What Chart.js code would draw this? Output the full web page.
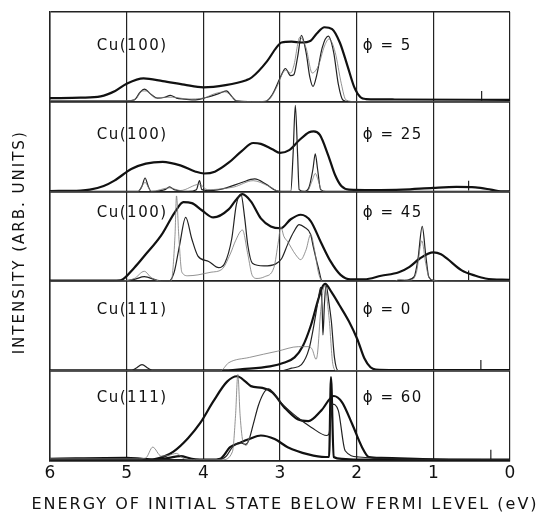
<!DOCTYPE html>
<html>
<head>
<meta charset="utf-8">
<script src="https://cdn.jsdelivr.net/npm/chart.js@4.4.0/dist/chart.umd.min.js"></script>
<style>
  html, body { margin: 0; padding: 0; background: #fff; }
</style>
</head>
<body>
<canvas id="chartspec" width="540" height="514"></canvas>
<script>
// energies in eV below E_F, intensity as fraction of the panel height
const energyTicks = [6, 5, 4, 3, 2, 1, 0];
const surfaces = ['Cu(100)', 'Cu(100)', 'Cu(100)', 'Cu(111)', 'Cu(111)'];
const angles = [5, 25, 45, 0, 60];
const fermiMarks = [0.37, 0.54, 0.54, 0.38, 0.25];
const xTitle = 'ENERGY OF INITIAL STATE BELOW FERMI LEVEL (eV)';
const yTitle = 'INTENSITY (ARB. UNITS)';

// phi = 5
const p1Thick = [[6,0.04],[5.6,0.045],[5.34,0.06],[5.15,0.12],[5.0,0.2],[4.78,0.26],[4.53,0.23],[4.25,0.19],[4.0,0.16],[3.71,0.185],[3.44,0.24],[3.37,0.27],[3.17,0.45],[3.05,0.6],[2.98,0.66],[2.85,0.67],[2.72,0.66],[2.6,0.68],[2.52,0.76],[2.42,0.83],[2.32,0.81],[2.22,0.66],[2.12,0.4],[2.03,0.16],[1.95,0.05],[1.88,0.03],[1.5,0.025],[0,0.02]];
const p1Medium = [[6,0.01],[5.0,0.01],[4.9,0.02],[4.83,0.1],[4.77,0.14],[4.68,0.08],[4.6,0.04],[4.5,0.05],[4.43,0.07],[4.35,0.04],[4.25,0.03],[4.1,0.02],[3.95,0.05],[3.8,0.09],[3.7,0.12],[3.63,0.06],[3.57,0.01],[3.2,0],[3.1,0.08],[2.98,0.3],[2.93,0.37],[2.86,0.29],[2.82,0.3],[2.77,0.5],[2.72,0.74],[2.66,0.55],[2.61,0.27],[2.57,0.17],[2.52,0.3],[2.45,0.6],[2.37,0.73],[2.3,0.55],[2.24,0.2],[2.18,0.02],[2.1,0],[0,0]];
const p1Light = [[6,0.01],[5.0,0.01],[4.88,0.03],[4.8,0.12],[4.74,0.12],[4.62,0.04],[4.5,0.05],[4.4,0.05],[4.2,0.03],[4.0,0.04],[3.85,0.09],[3.72,0.11],[3.64,0.07],[3.58,0.01],[3.3,0],[3.15,0.02],[3.05,0.15],[2.93,0.35],[2.86,0.32],[2.82,0.4],[2.74,0.72],[2.66,0.6],[2.58,0.32],[2.5,0.4],[2.42,0.62],[2.36,0.7],[2.28,0.55],[2.2,0.2],[2.14,0.02],[2.0,0],[0,0]];

// phi = 25
const p2Thick = [[6,0.005],[5.6,0.01],[5.48,0.02],[5.3,0.06],[5.16,0.12],[4.94,0.25],[4.75,0.31],[4.53,0.33],[4.3,0.29],[4.1,0.22],[3.99,0.2],[3.85,0.22],[3.67,0.32],[3.5,0.45],[3.35,0.54],[3.25,0.53],[3.1,0.47],[3.0,0.43],[2.88,0.46],[2.75,0.57],[2.62,0.66],[2.56,0.67],[2.48,0.63],[2.37,0.4],[2.28,0.18],[2.2,0.06],[2.1,0.02],[1.8,0.015],[1.4,0.02],[1.0,0.04],[0.7,0.05],[0.45,0.045],[0.25,0.02],[0.12,0],[0,0]];
const p2Medium = [[6,0],[4.85,0],[4.8,0.06],[4.76,0.15],[4.72,0.06],[4.68,0],[4.5,0.02],[4.44,0.05],[4.38,0.02],[4.2,0],[4.09,0.02],[4.05,0.12],[4.02,0.02],[3.9,0.01],[3.7,0.04],[3.5,0.1],[3.33,0.14],[3.18,0.08],[3.05,0.01],[2.9,0],[2.86,0],[2.83,0.4],[2.8,0.96],[2.77,0.4],[2.75,0.02],[2.68,0],[2.62,0.05],[2.57,0.25],[2.54,0.42],[2.51,0.25],[2.47,0.02],[2.4,0],[0,0]];
const p2Light = [[6,0],[4.85,0],[4.76,0.1],[4.68,0],[4.44,0.04],[4.3,0.01],[4.05,0.08],[3.95,0.02],[3.6,0.05],[3.35,0.12],[3.15,0.06],[3.0,0],[2.65,0],[2.58,0.12],[2.54,0.2],[2.5,0.12],[2.45,0],[0,0]];

// phi = 45
const p3Thick = [[6,0.005],[5.2,0.005],[5.08,0.01],[4.9,0.15],[4.77,0.28],[4.55,0.51],[4.37,0.77],[4.26,0.88],[4.15,0.87],[4.02,0.79],[3.87,0.71],[3.67,0.8],[3.58,0.9],[3.49,0.97],[3.38,0.89],[3.25,0.7],[3.12,0.61],[2.99,0.59],[2.86,0.69],[2.73,0.74],[2.6,0.67],[2.47,0.44],[2.34,0.22],[2.21,0.07],[2.08,0.02],[1.9,0.02],[1.68,0.06],[1.45,0.1],[1.31,0.16],[1.18,0.25],[1.0,0.32],[0.9,0.3],[0.82,0.25],[0.63,0.12],[0.45,0.06],[0.32,0.03],[0,0.015]];
const p3Medium = [[6,0],[5.1,0],[4.9,0.02],[4.77,0.05],[4.6,0.01],[4.45,0],[4.38,0.1],[4.31,0.4],[4.23,0.71],[4.15,0.47],[4.07,0.28],[3.93,0.22],[3.8,0.15],[3.72,0.2],[3.63,0.47],[3.57,0.85],[3.51,0.97],[3.46,0.7],[3.42,0.4],[3.36,0.2],[3.21,0.17],[3.06,0.19],[2.98,0.25],[2.9,0.41],[2.82,0.55],[2.75,0.63],[2.68,0.6],[2.6,0.52],[2.57,0.4],[2.5,0.15],[2.45,0],[1.5,0],[1.35,0.01],[1.25,0.05],[1.2,0.25],[1.145,0.61],[1.1,0.3],[1.06,0.05],[1.0,0.01],[0.6,0],[0,0]];
const p3Light = [[6,0],[5.1,0],[4.9,0.03],[4.77,0.11],[4.68,0.04],[4.55,0],[4.42,0],[4.37,0.5],[4.35,0.95],[4.32,0.5],[4.28,0.1],[4.2,0.06],[4.07,0.07],[3.9,0.1],[3.76,0.13],[3.65,0.3],[3.58,0.45],[3.49,0.57],[3.42,0.3],[3.36,0.06],[3.3,0.03],[3.2,0.05],[3.08,0.15],[3.02,0.45],[2.99,0.61],[2.95,0.5],[2.9,0.44],[2.8,0.3],[2.73,0.24],[2.66,0.35],[2.6,0.52],[2.55,0.35],[2.5,0.1],[2.45,0],[1.5,0],[1.45,0.02],[1.3,0.01],[1.22,0.1],[1.15,0.45],[1.1,0.2],[1.05,0.03],[0.9,0],[0,0]];

// phi = 0
const p4Thick = [[6,0.005],[3.76,0.005],[3.49,0.02],[3.13,0.05],[2.95,0.09],[2.81,0.15],[2.7,0.28],[2.6,0.5],[2.5,0.8],[2.45,0.93],[2.41,0.97],[2.33,0.88],[2.23,0.74],[2.1,0.55],[1.99,0.35],[1.9,0.14],[1.82,0.04],[1.75,0.015],[1.5,0.01],[0,0.01]];
const p4Medium = [[6,0],[4.95,0],[4.88,0.03],[4.8,0.07],[4.72,0.03],[4.65,0],[3.0,0],[2.85,0.03],[2.72,0.07],[2.62,0.25],[2.56,0.5],[2.5,0.8],[2.47,0.93],[2.45,0.7],[2.44,0.4],[2.42,0.75],[2.4,0.96],[2.36,0.75],[2.33,0.55],[2.29,0.15],[2.24,0],[0,0]];
const p4Light = [[6,0],[3.78,0],[3.67,0.09],[3.4,0.15],[3.03,0.22],[2.76,0.27],[2.62,0.27],[2.58,0.24],[2.53,0.13],[2.51,0.2],[2.47,0.66],[2.42,0.95],[2.36,0.59],[2.31,0.07],[2.26,0],[0,0]];

// phi = 60
const p5Thick = [[6,0.01],[4.8,0.005],[4.66,0.01],[4.5,0.05],[4.39,0.1],[4.2,0.25],[4.04,0.42],[3.87,0.66],[3.69,0.88],[3.56,0.94],[3.45,0.88],[3.38,0.83],[3.23,0.81],[3.1,0.76],[2.94,0.59],[2.77,0.46],[2.63,0.44],[2.46,0.56],[2.3,0.72],[2.19,0.65],[2.06,0.41],[1.93,0.15],[1.84,0.04],[1.68,0.03],[1.0,0.015],[0,0.01]];
const p5Inner = [[6,0.02],[5.0,0.03],[4.8,0.02],[4.6,0.01],[4.45,0.03],[4.3,0.05],[4.15,0.02],[3.9,0.01],[3.78,0.02],[3.65,0.15],[3.52,0.2],[3.4,0.24],[3.25,0.28],[3.07,0.24],[2.9,0.15],[2.63,0.07],[2.41,0.04],[2.36,0.04],[2.335,0.93],[2.3,0.04],[2.19,0.02],[2.0,0.01],[0,0.005]];
const p5Medium = [[6,0.01],[4.8,0.01],[3.8,0.01],[3.7,0.05],[3.62,0.15],[3.52,0.2],[3.45,0.18],[3.41,0.22],[3.35,0.4],[3.28,0.62],[3.2,0.77],[3.15,0.8],[3.08,0.75],[2.99,0.65],[2.77,0.48],[2.59,0.37],[2.39,0.28],[2.36,0.3],[2.32,0.63],[2.24,0.56],[2.15,0.11],[1.97,0.04],[1.5,0.02],[0,0.01]];
const p5Light = [[6,0.02],[4.85,0.02],[4.75,0.03],[4.66,0.15],[4.55,0.05],[4.45,0.06],[4.35,0.08],[4.25,0.02],[4.1,0.01],[3.75,0.01],[3.62,0.1],[3.58,0.5],[3.55,0.96],[3.52,0.5],[3.48,0.2],[3.44,0.17],[3.4,0.26]];

const panelCurves = [
  { thick: [p1Thick], medium: [p1Medium], light: [p1Light] },
  { thick: [p2Thick], medium: [p2Medium], light: [p2Light] },
  { thick: [p3Thick], medium: [p3Medium], light: [p3Light] },
  { thick: [p4Thick], medium: [p4Medium], light: [p4Light] },
  { thick: [p5Thick, p5Inner], medium: [p5Medium], light: [p5Light] }
];

const labelHeights = [0.62, 0.63, 0.76, 0.68, 0.7];

const styles = {
  thick:  { borderWidth: 2.2, borderColor: '#111' },
  medium: { borderWidth: 1.2, borderColor: '#222' },
  light:  { borderWidth: 0.8, borderColor: '#777' }
};

const datasets = [];
panelCurves.forEach((p, i) => {
  ['light', 'medium', 'thick'].forEach(kind => {
    p[kind].forEach(curve => {
      datasets.push({
        data: curve.map(pt => ({ x: pt[0], y: pt[1] })),
        yAxisID: 'p' + i,
        borderColor: styles[kind].borderColor,
        borderWidth: styles[kind].borderWidth,
        pointRadius: 0,
        fill: false,
        cubicInterpolationMode: 'monotone'
      });
    });
  });
  datasets.push({
    data: [{ x: fermiMarks[i], y: 0.01 }, { x: fermiMarks[i], y: 0.12 }],
    yAxisID: 'p' + i,
    borderColor: '#222',
    borderWidth: 1.2,
    pointRadius: 0
  });
});

const scales = {
  x: {
    type: 'linear',
    min: 0,
    max: 6,
    reverse: true,
    afterBuildTicks: s => { s.ticks = energyTicks.map(v => ({ value: v })); },
    grid: { color: '#222', lineWidth: 1.2, drawTicks: false },
    border: { color: '#222', width: 1.5 },
    ticks: { color: '#111', font: { family: 'DejaVu Sans', size: 17 }, padding: 3 }
  }
};
// stacked axes are laid out bottom-up, so add the lowest panel first
for (let i = 4; i >= 0; i--) {
  scales['p' + i] = {
    type: 'linear',
    position: 'left',
    stack: 'panels',
    stackWeight: 1,
    min: 0,
    max: 1,
    afterBuildTicks: s => { s.ticks = [{ value: 0 }, { value: 1 }]; },
    afterFit: s => { s.width = 0; },
    ticks: { display: false },
    grid: { color: '#222', lineWidth: 1.5, drawTicks: false },
    border: { color: '#222', width: 1.5 }
  };
}

// axis titles and panel captions, letter-spaced like the original lettering
const panelText = {
  id: 'panelText',
  afterDatasetsDraw(chart) {
    const c = chart.ctx;
    const x = chart.scales.x;
    const area = chart.chartArea;
    c.save();
    c.fillStyle = '#111';
    c.textBaseline = 'middle';
    c.textAlign = 'left';
    c.font = '15px "DejaVu Sans"';
    c.letterSpacing = '1.5px';
    for (let i = 0; i < 5; i++) {
      const y = chart.scales['p' + i].getPixelForValue(labelHeights[i]);
      c.fillText(surfaces[i], x.getPixelForValue(5.39), y);
      c.fillText('\u03D5 = ' + angles[i], x.getPixelForValue(1.92), y);
    }
    c.textAlign = 'center';
    c.font = '16px "DejaVu Sans"';
    c.letterSpacing = '2px';
    c.fillText(xTitle, (area.left + area.right) / 2 + 5, chart.height - 9);
    c.font = '15px "DejaVu Sans"';
    c.translate(20, (area.top + area.bottom) / 2 + 6);
    c.rotate(-Math.PI / 2);
    c.fillText(yTitle, 0, 0);
    c.restore();
  }
};

const chartspec = new Chart(document.getElementById('chartspec').getContext('2d'), {
  type: 'line',
  data: { datasets: datasets },
  options: {
    responsive: false,
    animation: false,
    layout: { padding: { left: 50, right: 30, top: 12, bottom: 27 } },
    plugins: { legend: { display: false }, tooltip: { enabled: false } },
    scales: scales
  },
  plugins: [panelText]
});
</script>
</body>
</html>
